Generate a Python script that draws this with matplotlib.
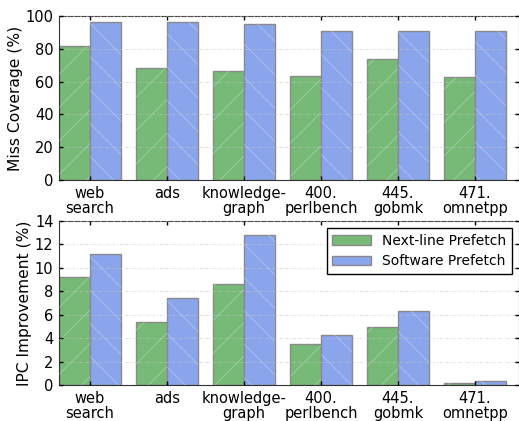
import numpy as np
import matplotlib
matplotlib.use("Agg")
import matplotlib.pyplot as plt

labels = ["web\nsearch", "ads", "knowledge-\ngraph", "400.\nperlbench", "445.\ngobmk", "471.\nomnetpp"]
coverage_nextline = [81.7, 68.0, 66.3, 63.5, 73.8, 62.7]
coverage_software = [96.2, 96.6, 95.4, 90.7, 90.7, 91.1]
ipc_nextline = [9.2, 5.35, 8.65, 3.47, 4.98, 0.2]
ipc_software = [11.19, 7.4, 12.78, 4.24, 6.32, 0.31]

green = "#77b977"
blue = "#8aa5eb"
w = 0.4
x = np.arange(len(labels))

plt.rcParams['hatch.linewidth'] = 0.6
fig = plt.figure(figsize=(5.19, 4.21), dpi=100)
ax1 = fig.add_axes([59/519, 241/421, 460/519, 164/421])
ax2 = fig.add_axes([59/519, 36/421, 460/519, 164/421])


def draw(ax, a, b, ymax, ystep, ylabel, legend=False):
    ax.bar(x - w, a, w, align='edge', color=green, edgecolor='#8a8a8a', linewidth=1,
           label='Next-line Prefetch', zorder=2)
    ax.bar(x, b, w, align='edge', color=blue, edgecolor='#8a8a8a', linewidth=1,
           label='Software Prefetch', zorder=2)
    # faint hatching
    ax.bar(x - w, a, w, align='edge', fill=False, hatch='/', edgecolor=(1, 1, 1, 0.3),
           linewidth=0, zorder=3)
    ax.bar(x, b, w, align='edge', fill=False, hatch='\\', edgecolor=(1, 1, 1, 0.3),
           linewidth=0, zorder=3)
    ax.set_xlim(-0.4, 5.57)
    ax.set_ylim(0, ymax)
    ax.set_yticks(np.arange(0, ymax + 0.1, ystep))
    ax.set_xticks(x)
    ax.set_xticklabels(labels, fontsize=10.5, linespacing=1.0)
    ax.tick_params(axis='y', labelsize=10.5)
    ax.tick_params(direction='in', top=True, right=True, length=3, width=1, pad=4)
    ax.yaxis.grid(True, linestyle=(0, (3, 2, 1, 2)), color='#c4c4c4', linewidth=0.6,
                  alpha=0.7, zorder=4)
    ax.set_axisbelow(False)
    ax.set_ylabel(ylabel, fontsize=11.2, labelpad=2)
    for s in ax.spines.values():
        s.set_color('#333333')
    if legend:
        leg = ax.legend(loc='upper right', fontsize=10, fancybox=False, framealpha=1,
                        edgecolor='black', handlelength=2.8, borderpad=0.4)
        leg.get_frame().set_linewidth(1)


draw(ax1, coverage_nextline, coverage_software, 100, 20, 'Miss Coverage (%)')
draw(ax2, ipc_nextline, ipc_software, 14, 2, 'IPC Improvement (%)', legend=True)

fig.savefig("out.png", dpi=100)
